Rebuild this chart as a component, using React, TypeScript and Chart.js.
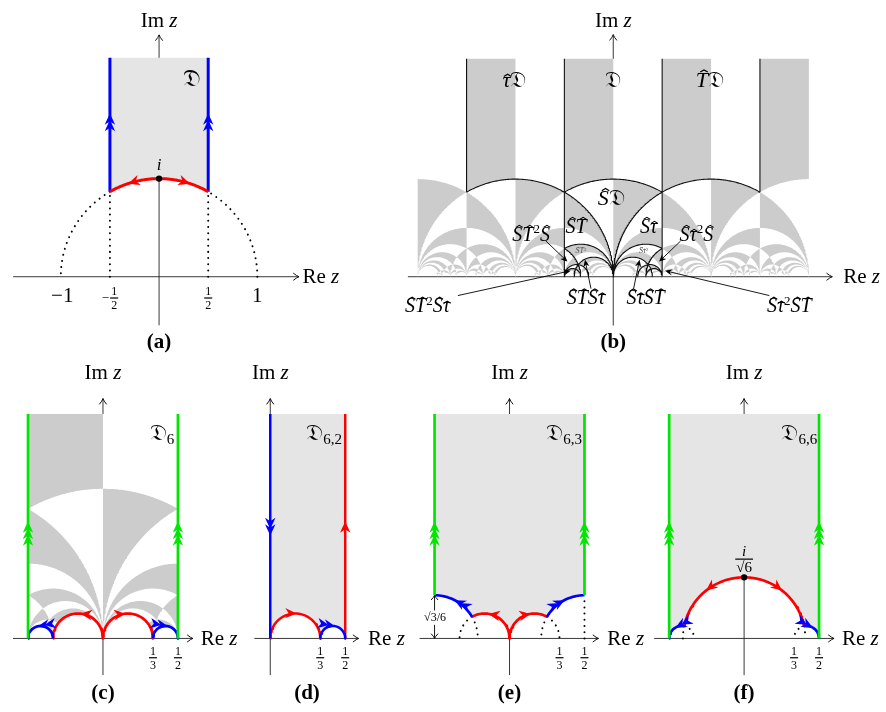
import React, { useEffect, useRef } from 'react';
import { Chart, registerables } from 'chart.js';

Chart.register(...registerables);

const W = 886;
const H = 712;
const R3 = Math.sqrt(3);
const R6 = Math.sqrt(6);
const SERIF = "'Liberation Serif', 'DejaVu Serif', 'Times New Roman', serif";
const FRAK = "'DejaVu Serif', 'DejaVu Sans', 'Noto Sans', serif";

const BLUE = '#0000ff';
const RED = '#ff0000';
const GREEN = '#00e600';
const LIGHT = '#e5e5e5';
const TESS = '#cccccc';
const INK = '#000000';

// ---------- layout frames: pixel of origin and pixels per unit ----------
const frames: any = {
  a: { ox: 157, oy: 276, u: 99 },
  b: { ox: 614.5, oy: 276, u: 98.5 },
  c: { ox: 100.5, oy: 641, u: 151 },
  d: { ox: 269, oy: 641, u: 151 },
  e: { ox: 510, oy: 641, u: 151 },
  f: { ox: 746.3, oy: 641, u: 151 },
};

// ---------- shared text ----------
const IM = [['Im', 'r'], [' ', 'r'], ['z', 'i']];
const RE = [['Re', 'r'], [' ', 'r'], ['z', 'i']];
const FD = '\u{1D507}';
const SH = ['S', 'ih'];
const TH = ['T', 'ih'];
const tH = ['\u03C4', 'ihl'];
const SQ = ['2', 'sup'];

// ---------- panel (a) ----------
const aTop = 2.232;
const aDomain = [['L', -0.5, aTop, -0.5, R3 / 2], ['A', 0, 1, 120, 60], ['L', 0.5, R3 / 2, 0.5, aTop]];
const aBlue = [[['L', -0.5, R3 / 2, -0.5, aTop]], [['L', 0.5, R3 / 2, 0.5, aTop]]];
const aRed = [[['A', 0, 1, 120, 60]]];
const aDotted = [[['A', 0, 1, 0, 60]], [['A', 0, 1, 120, 180]], [['L', -0.5, 0, -0.5, R3 / 2]], [['L', 0.5, 0, 0.5, R3 / 2]]];
const aPoints = [{ x: 0, y: 1 }];
const aAxisX = [-1.485, 1.424];
const aAxisY = [[-0.495, 2.465]];
const aArrows = [
  { on: 'L', x: -0.5, y: 1.66, dx: 0, dy: 1, n: 2, color: BLUE },
  { on: 'L', x: 0.5, y: 1.66, dx: 0, dy: 1, n: 2, color: BLUE },
  { on: 'A', cx: 0, r: 1, deg: 108, dir: 1, n: 1, color: RED },
  { on: 'A', cx: 0, r: 1, deg: 72, dir: -1, n: 1, color: RED },
];
const aLabels = [
  { x: 0, y: 2.616, size: 21, segs: IM },
  { x: 1.646, y: 0, size: 21, segs: RE },
  { x: -0.985, y: -0.192, size: 21, segs: [['\u22121', 'r']] },
  { x: 1, y: -0.192, size: 21, segs: [['1', 'r']] },
  { x: 0, y: 1.141, size: 17, segs: [['i', 'i']] },
  { x: 0.333, y: 2.02, size: 24, segs: [[FD, 'f']] },
  { x: 0, y: -0.66, size: 21, segs: [['(a)', 'b']] },
];
const aFracs = [
  { x: -0.5, y: -0.217, size: 12, pre: '\u2212', num: [['1', 'r']], den: [['2', 'r']] },
  { x: 0.5, y: -0.217, size: 12, num: [['1', 'r']], den: [['2', 'r']] },
];

// ---------- panel (b) ----------
const bTop = 2.232;
const bXMin = -2;
const bXMax = 2;
const bQMax = 26;
const bWalls = [[['L', -1.5, R3 / 2, -1.5, bTop]], [['L', -0.5, 0, -0.5, bTop]], [['L', 0.5, 0, 0.5, bTop]], [['L', 1.5, R3 / 2, 1.5, bTop]]];
const bArcs = [
  [-1, 1, 0, 120], [1, 1, 60, 180], [0, 1, 60, 120],
  [-1 / 3, 1 / 3, 0, 120], [1 / 3, 1 / 3, 60, 180],
  [-1 / 5, 1 / 5, 0, 180], [1 / 5, 1 / 5, 0, 180],
  [-2 / 3, 1 / 3, 0, 60], [2 / 3, 1 / 3, 120, 180],
  [-3 / 8, 1 / 8, 0, 180], [3 / 8, 1 / 8, 0, 180],
  [-5 / 12, 1 / 12, 0, 180], [5 / 12, 1 / 12, 0, 180],
];
const bAxisX = [-2.1, 2.24];
const bAxisY = [[-0.5, 0], [bTop, 2.48]];
const bPointers = [
  { x1: -0.688, y1: 0.365, x2: -0.469, y2: 0.155 },
  { x1: 0.688, y1: 0.365, x2: 0.469, y2: 0.155 },
  { x1: -1.589, y1: -0.193, x2: -0.435, y2: 0.061 },
  { x1: -0.228, y1: -0.122, x2: -0.289, y2: 0.173 },
  { x1: 0.208, y1: -0.122, x2: 0.269, y2: 0.173 },
  { x1: 1.596, y1: -0.193, x2: 0.53, y2: 0.061 },
];
const bLabels = [
  { x: 0, y: 2.63, size: 21, segs: IM },
  { x: 2.54, y: 0, size: 21, segs: RE },
  { x: -1.01, y: 2.02, size: 22, segs: [tH, [FD, 'f']] },
  { x: 0, y: 2.02, size: 22, segs: [[FD, 'f']] },
  { x: 0.987, y: 2.02, size: 22, segs: [TH, [FD, 'f']] },
  { x: -0.02, y: 0.805, size: 22, segs: [SH, [FD, 'f']] },
  { x: -0.38, y: 0.518, size: 20, segs: [SH, TH] },
  { x: 0.36, y: 0.518, size: 20, segs: [SH, tH] },
  { x: -0.84, y: 0.436, size: 20, segs: [SH, TH, SQ, SH] },
  { x: 0.85, y: 0.436, size: 20, segs: [SH, tH, SQ, SH] },
  { x: -0.33, y: 0.265, size: 8, segs: [SH, TH, SQ], color: '#555' },
  { x: 0.31, y: 0.265, size: 8, segs: [SH, tH, SQ], color: '#555' },
  { x: -1.9, y: -0.3, size: 20, segs: [SH, TH, SQ, SH, tH] },
  { x: -0.28, y: -0.215, size: 20, segs: [SH, TH, SH, tH] },
  { x: 0.33, y: -0.215, size: 20, segs: [SH, tH, SH, TH] },
  { x: 1.8, y: -0.3, size: 20, segs: [SH, tH, SQ, SH, TH] },
  { x: 0, y: -0.66, size: 21, segs: [['(b)', 'b']] },
];

// ---------- bottom row shared ----------
const rowTop = 1.5;
const rowAxisTop = 1.603;
const rowAxisBottom = -0.245;
const tickFracs = [
  { x: 1 / 3, y: -0.129, size: 12, num: [['1', 'r']], den: [['3', 'r']] },
  { x: 0.5, y: -0.129, size: 12, num: [['1', 'r']], den: [['2', 'r']] },
];
const greenArrows = [
  { on: 'L', x: -0.5, y: 0.78, dx: 0, dy: 1, n: 3, color: GREEN },
  { on: 'L', x: 0.5, y: 0.78, dx: 0, dy: 1, n: 3, color: GREEN },
];

// ---------- panel (c) ----------
const cGreen = [[['L', -0.5, 0, -0.5, rowTop]], [['L', 0.5, 0, 0.5, rowTop]]];
const cRed = [[['A', -1 / 6, 1 / 6, 180, 0]], [['A', 1 / 6, 1 / 6, 180, 0]]];
const cBlue = [[['A', -5 / 12, 1 / 12, 180, 0]], [['A', 5 / 12, 1 / 12, 180, 0]]];
const cHoles = [[-1 / 6, 1 / 6], [1 / 6, 1 / 6], [-5 / 12, 1 / 12], [5 / 12, 1 / 12]];
const cQMax = 30;
const cAxisX = [-0.6, 0.6];
const cAxisY = [[rowAxisBottom, 0], [rowTop, rowAxisTop]];
const cArrows = [
  ...greenArrows,
  { on: 'A', cx: 1 / 6, r: 1 / 6, deg: 97, dir: -1, n: 1, color: RED },
  { on: 'A', cx: -1 / 6, r: 1 / 6, deg: 83, dir: 1, n: 1, color: RED },
  { on: 'A', cx: 5 / 12, r: 1 / 12, deg: 80, dir: -1, n: 2, color: BLUE },
  { on: 'A', cx: -5 / 12, r: 1 / 12, deg: 100, dir: 1, n: 2, color: BLUE },
];
const cLabels = [
  { x: 0, y: 1.78, size: 21, segs: IM },
  { x: 0.775, y: 0, size: 21, segs: RE },
  { x: 0.394, y: 1.377, size: 23, segs: [[FD, 'f'], ['6', 'sub']] },
  { x: 0, y: -0.358, size: 21, segs: [['(c)', 'b']] },
];

// ---------- panel (d) ----------
const dDomain = [['L', 0, rowTop, 0, 0], ['A', 1 / 6, 1 / 6, 180, 0], ['A', 5 / 12, 1 / 12, 180, 0], ['L', 0.5, 0, 0.5, rowTop]];
const dBlue = [[['L', 0, 0, 0, rowTop]], [['A', 5 / 12, 1 / 12, 180, 0]]];
const dRed = [[['L', 0.5, 0, 0.5, rowTop]], [['A', 1 / 6, 1 / 6, 180, 0]]];
const dAxisX = [-0.106, 0.59];
const dAxisY = [[rowAxisBottom, rowAxisTop]];
const dArrows = [
  { on: 'L', x: 0, y: 0.69, dx: 0, dy: -1, n: 2, color: BLUE },
  { on: 'L', x: 0.5, y: 0.78, dx: 0, dy: 1, n: 1, color: RED },
  { on: 'A', cx: 1 / 6, r: 1 / 6, deg: 88, dir: -1, n: 1, color: RED },
  { on: 'A', cx: 5 / 12, r: 1 / 12, deg: 80, dir: -1, n: 2, color: BLUE },
];
const dLabels = [
  { x: 0, y: 1.78, size: 21, segs: IM },
  { x: 0.775, y: 0, size: 21, segs: RE },
  { x: 0.36, y: 1.377, size: 23, segs: [[FD, 'f'], ['6,2', 'sub']] },
  { x: 0.245, y: -0.358, size: 21, segs: [['(d)', 'b']] },
];

// ---------- panel (e) ----------
const eH = R3 / 6;
const eDomain = [
  ['L', -0.5, rowTop, -0.5, eH], ['A', -0.5, eH, 90, 30], ['A', -1 / 6, 1 / 6, 120, 0],
  ['A', 1 / 6, 1 / 6, 180, 60], ['A', 0.5, eH, 150, 90], ['L', 0.5, eH, 0.5, rowTop],
];
const eGreen = [[['L', -0.5, eH, -0.5, rowTop]], [['L', 0.5, eH, 0.5, rowTop]]];
const eRed = [[['A', -1 / 6, 1 / 6, 120, 0]], [['A', 1 / 6, 1 / 6, 180, 60]]];
const eBlue = [[['A', -0.5, eH, 90, 30]], [['A', 0.5, eH, 150, 90]]];
const eDotted = [
  [['A', -1 / 6, 1 / 6, 120, 180]], [['A', 1 / 6, 1 / 6, 60, 0]],
  [['A', -0.5, eH, 30, 0]], [['A', 0.5, eH, 150, 180]], [['L', 0.5, 0, 0.5, eH]],
];
const eAxisX = [-0.6, 0.594];
const eAxisY = [[rowAxisBottom, rowAxisTop]];
const eArrows = [
  ...greenArrows,
  { on: 'A', cx: 1 / 6, r: 1 / 6, deg: 100, dir: -1, n: 1, color: RED },
  { on: 'A', cx: -1 / 6, r: 1 / 6, deg: 80, dir: 1, n: 1, color: RED },
  { on: 'A', cx: 0.5, r: eH, deg: 118, dir: -1, n: 2, color: BLUE },
  { on: 'A', cx: -0.5, r: eH, deg: 62, dir: 1, n: 2, color: BLUE },
];
const eDims = [{ x: -0.5, y1: 0, y2: eH }];
const eLabels = [
  { x: 0, y: 1.78, size: 21, segs: IM },
  { x: 0.775, y: 0, size: 21, segs: RE },
  { x: 0.364, y: 1.377, size: 23, segs: [[FD, 'f'], ['6,3', 'sub']] },
  { x: -0.497, y: 0.139, size: 12, segs: [['\u221A3/6', 'r']], bg: true },
  { x: 0, y: -0.358, size: 21, segs: [['(e)', 'b']] },
];

// ---------- panel (f) ----------
const fR = 1 / R6;
const fDomain = [
  ['L', -0.5, rowTop, -0.5, 0], ['A', -5 / 12, 1 / 12, 180, 78.46], ['A', 0, fR, 168.46, 11.54],
  ['A', 5 / 12, 1 / 12, 101.54, 0], ['L', 0.5, 0, 0.5, rowTop],
];
const fGreen = [[['L', -0.5, 0, -0.5, rowTop]], [['L', 0.5, 0, 0.5, rowTop]]];
const fRed = [[['A', 0, fR, 168.46, 11.54]]];
const fBlue = [[['A', -5 / 12, 1 / 12, 180, 78.46]], [['A', 5 / 12, 1 / 12, 101.54, 0]]];
const fDotted = [
  [['A', -5 / 12, 1 / 12, 78.46, 0]], [['A', 5 / 12, 1 / 12, 101.54, 180]],
  [['A', 0, fR, 180, 168.46]], [['A', 0, fR, 11.54, 0]],
];
const fPoints = [{ x: 0, y: fR }];
const fAxisX = [-0.6, 0.6];
const fAxisY = [[rowAxisBottom, rowAxisTop]];
const fArrows = [
  ...greenArrows,
  { on: 'A', cx: 0, r: fR, deg: 52, dir: -1, n: 1, color: RED },
  { on: 'A', cx: 0, r: fR, deg: 128, dir: 1, n: 1, color: RED },
  { on: 'A', cx: 5 / 12, r: 1 / 12, deg: 62, dir: -1, n: 2, color: BLUE },
  { on: 'A', cx: -5 / 12, r: 1 / 12, deg: 118, dir: 1, n: 2, color: BLUE },
];
const fLabels = [
  { x: 0, y: 1.78, size: 21, segs: IM },
  { x: 0.775, y: 0, size: 21, segs: RE },
  { x: 0.368, y: 1.377, size: 23, segs: [[FD, 'f'], ['6,6', 'sub']] },
  { x: 0, y: -0.358, size: 21, segs: [['(f)', 'b']] },
];
const fFracs = [{ x: 0, y: 0.53, size: 15, num: [['i', 'i']], den: [['\u221A6', 'r']] }];

// ---------- modular group pieces (base half-domain) ----------
const baseCorner = [-0.5, R3 / 2];
const baseMid = [0, 1];
const baseProbe = [-0.25, 1.3];

// ================= geometry helpers =================
const D2R = Math.PI / 180;
function arcPts(cx: number, r: number, a1: number, a2: number, out: any[], minN: number) {
  const t1 = a1 * D2R;
  const t2 = a2 * D2R;
  const n = Math.max(minN, Math.min(200, Math.ceil(Math.abs(t2 - t1) * r * 90)));
  for (let k = 0; k <= n; k++) {
    const t = t1 + ((t2 - t1) * k) / n;
    out.push({ x: cx + r * Math.cos(t), y: r * Math.sin(t) });
  }
}
function geoPts(x1: number, y1: number, x2: number, y2: number, out: any[]) {
  if (Math.abs(x1 - x2) < 1e-10) {
    out.push({ x: x1, y: y1 }, { x: x2, y: y2 });
    return;
  }
  const c = (x2 * x2 + y2 * y2 - (x1 * x1 + y1 * y1)) / (2 * (x2 - x1));
  const r = Math.hypot(x1 - c, y1);
  arcPts(c, r, Math.atan2(y1, x1 - c) / D2R, Math.atan2(y2, x2 - c) / D2R, out, 2);
}
function toPts(segs: any[]) {
  const out: any[] = [];
  for (const s of segs) {
    if (s[0] === 'L') out.push({ x: s[1], y: s[2] }, { x: s[3], y: s[4] });
    else if (s[0] === 'A') arcPts(s[1], s[2], s[3], s[4], out, 2);
    else if (s[0] === 'G') geoPts(s[1], s[2], s[3], s[4], out);
  }
  return out;
}
function joinPaths(paths: any[][]) {
  const out: any[] = [];
  paths.forEach((p, i) => {
    const pts = toPts(p);
    if (i > 0 && pts.length) out.push({ x: pts[0].x, y: null });
    out.push(...pts);
  });
  return out;
}
function gcd(a: number, b: number) {
  a = Math.abs(a);
  b = Math.abs(b);
  while (b) {
    const t = a % b;
    a = b;
    b = t;
  }
  return a;
}
function mob(a: number, b: number, c: number, d: number, p: number[]) {
  const [x, y] = p;
  const nr = a * x + b, ni = a * y, dr = c * x + d, di = c * y;
  const den = dr * dr + di * di;
  return [(nr * dr + ni * di) / den, (ni * dr - nr * di) / den];
}
// images of the base half-domain under PSL(2,Z)
function tessellation(xmin: number, xmax: number, top: number, qmax: number, keep: (x: number, y: number) => boolean) {
  const tris: any[][] = [];
  for (let n = Math.floor(xmin) - 1; n <= Math.ceil(xmax) + 1; n++) {
    if (!keep(baseProbe[0] + n, baseProbe[1])) continue;
    tris.push([
      ['L', baseCorner[0] + n, top, baseCorner[0] + n, baseCorner[1]],
      ['G', baseCorner[0] + n, baseCorner[1], baseMid[0] + n, baseMid[1]],
      ['L', baseMid[0] + n, baseMid[1], baseMid[0] + n, top],
    ]);
  }
  for (let c = 1; 0.75 * c * c <= qmax; c++) {
    const s = Math.sqrt(qmax - 0.75 * c * c);
    for (let d = Math.ceil(c / 2 - s); d <= Math.floor(c / 2 + s); d++) {
      if (gcd(c, d) !== 1) continue;
      let a0 = 0;
      while ((((a0 * d - 1) % c) + c) % c !== 0) a0++;
      for (let k = Math.floor(xmin) - 2; k <= Math.ceil(xmax) + 2; k++) {
        const a = a0 + k * c;
        const b = (a * d - 1) / c;
        const pr = mob(a, b, c, d, baseProbe);
        if (!keep(pr[0], pr[1])) continue;
        const v2 = mob(a, b, c, d, baseCorner);
        const v3 = mob(a, b, c, d, baseMid);
        const cu = a / c;
        tris.push([
          ['G', cu, 0, v2[0], v2[1]],
          ['G', v2[0], v2[1], v3[0], v3[1]],
          ['G', v3[0], v3[1], cu, 0],
        ]);
      }
    }
  }
  return tris;
}

// ================= datasets =================
function buildDatasets() {
  const list: any[] = [];
  const add = (id: string, data: any[], o: any) =>
    list.push({
      data,
      xAxisID: 'x' + id,
      yAxisID: 'y' + id,
      showLine: true,
      pointRadius: 0,
      pointHoverRadius: 0,
      tension: 0,
      spanGaps: false,
      fill: false,
      borderWidth: 1,
      borderColor: INK,
      backgroundColor: 'transparent',
      borderJoinStyle: 'round',
      ...o,
    });
  const axes = (id: string, ax: number[], ay: number[][]) => {
    add(id, joinPaths([[['L', ax[0], 0, ax[1], 0]], ...ay.map((p) => [['L', 0, p[0], 0, p[1]]])]), { borderWidth: 0.9, borderColor: '#222' });
  };
  const fillShape = (id: string, paths: any[][], color: string) => add(id, joinPaths(paths), { fill: 'shape', backgroundColor: color, borderWidth: 0 });
  const stroke = (id: string, paths: any[][], color: string, w: number) => add(id, joinPaths(paths), { borderColor: color, borderWidth: w, borderCapStyle: 'butt' });
  const dotted = (id: string, paths: any[][]) =>
    add(id, joinPaths(paths), { borderColor: INK, borderWidth: 2, borderDash: [0.01, 6.2], borderCapStyle: 'round' });
  const points = (id: string, pts: any[]) =>
    add(id, pts, { showLine: false, pointRadius: 3.2, pointBackgroundColor: INK, pointBorderColor: INK, pointBorderWidth: 0 });

  // (a)
  axes('a', aAxisX, aAxisY);
  dotted('a', aDotted);
  fillShape('a', [aDomain], LIGHT);
  stroke('a', aBlue, BLUE, 3);
  stroke('a', aRed, RED, 3);
  points('a', aPoints);

  // (b)
  axes('b', bAxisX, bAxisY);
  fillShape('b', tessellation(bXMin, bXMax, bTop, bQMax, (x, y) => x > bXMin && x < bXMax && y < bTop), TESS);
  stroke('b', [...bWalls, ...bArcs.map((q) => [['A', q[0], q[1], q[2], q[3]]])], '#111', 1.1);

  // (c)
  axes('c', cAxisX, cAxisY);
  fillShape(
    'c',
    tessellation(-0.5, 0.5, rowTop, cQMax, (x, y) => Math.abs(x) < 0.5 && y < rowTop && cHoles.every((h) => (x - h[0]) ** 2 + y * y > h[1] * h[1])),
    TESS
  );
  stroke('c', cRed, RED, 2.7);
  stroke('c', cBlue, BLUE, 2.7);
  stroke('c', cGreen, GREEN, 2.7);

  // (d)
  axes('d', dAxisX, dAxisY);
  fillShape('d', [dDomain], LIGHT);
  stroke('d', dRed, RED, 2.5);
  stroke('d', dBlue, BLUE, 2.5);

  // (e)
  axes('e', eAxisX, eAxisY);
  dotted('e', eDotted);
  fillShape('e', [eDomain], LIGHT);
  stroke('e', eRed, RED, 2.7);
  stroke('e', eBlue, BLUE, 2.7);
  stroke('e', eGreen, GREEN, 2.7);

  // (f)
  axes('f', fAxisX, fAxisY);
  dotted('f', fDotted);
  fillShape('f', [fDomain], LIGHT);
  stroke('f', fRed, RED, 2.7);
  stroke('f', fBlue, BLUE, 2.7);
  stroke('f', fGreen, GREEN, 2.7);
  points('f', fPoints);

  const N = list.length;
  list.forEach((d, i) => (d.order = N - i));
  return list;
}

// ================= decorations (arrows, labels) =================
const decor = [
  { id: 'a', ax: aAxisX, ayTop: aAxisY[aAxisY.length - 1][1], arrows: aArrows, labels: aLabels, fracs: aFracs, pointers: [], dims: [] },
  { id: 'b', ax: bAxisX, ayTop: bAxisY[bAxisY.length - 1][1], arrows: [], labels: bLabels, fracs: [], pointers: bPointers, dims: [] },
  { id: 'c', ax: cAxisX, ayTop: rowAxisTop, arrows: cArrows, labels: cLabels, fracs: tickFracs, pointers: [], dims: [] },
  { id: 'd', ax: dAxisX, ayTop: rowAxisTop, arrows: dArrows, labels: dLabels, fracs: tickFracs, pointers: [], dims: [] },
  { id: 'e', ax: eAxisX, ayTop: rowAxisTop, arrows: eArrows, labels: eLabels, fracs: tickFracs, pointers: [], dims: eDims },
  { id: 'f', ax: fAxisX, ayTop: rowAxisTop, arrows: fArrows, labels: fLabels, fracs: [...tickFracs, ...fFracs], pointers: [], dims: [] },
];

function fontOf(st: string, size: number) {
  if (st === 'i' || st === 'ih' || st === 'ihl') return `italic ${size}px ${SERIF}`;
  if (st === 'b') return `bold ${size}px ${SERIF}`;
  if (st === 'sup' || st === 'sub') return `${Math.round(size * 0.64)}px ${SERIF}`;
  if (st === 'f') return `${size}px ${FRAK}`;
  return `${size}px ${SERIF}`;
}
function richWidth(ctx: any, segs: any[], size: number) {
  let w = 0;
  for (const [t, st] of segs) {
    ctx.font = fontOf(st, size);
    w += ctx.measureText(t).width;
  }
  return w;
}
function drawRich(ctx: any, segs: any[], x0: number, cy: number, size: number) {
  let x = x0;
  const base = cy + size * 0.32;
  for (const [t, st] of segs) {
    ctx.font = fontOf(st, size);
    const dy = st === 'sup' ? -size * 0.36 : st === 'sub' ? size * 0.2 : 0;
    ctx.fillText(t, x, base + dy);
    const w = ctx.measureText(t).width;
    if (st === 'ih' || st === 'ihl') {
      const hx = x + w / 2 + size * (st === 'ih' ? 0.1 : 0.05);
      const hy = base - size * (st === 'ih' ? 0.76 : 0.56);
      const hw = size * 0.17;
      ctx.save();
      ctx.beginPath();
      ctx.moveTo(hx - hw, hy + size * 0.1);
      ctx.lineTo(hx, hy);
      ctx.lineTo(hx + hw, hy + size * 0.1);
      ctx.strokeStyle = ctx.fillStyle;
      ctx.lineWidth = Math.max(0.6, size * 0.055);
      ctx.stroke();
      ctx.restore();
    }
    x += w;
  }
}
function head(ctx: any, x: number, y: number, ang: number, color: string, L = 11, Wd = 5.2) {
  ctx.save();
  ctx.translate(x, y);
  ctx.rotate(ang);
  ctx.beginPath();
  ctx.moveTo(0, 0);
  ctx.quadraticCurveTo(-L * 0.5, Wd * 0.55, -L, Wd);
  ctx.lineTo(-L * 0.68, 0);
  ctx.lineTo(-L, -Wd);
  ctx.quadraticCurveTo(-L * 0.5, -Wd * 0.55, 0, 0);
  ctx.closePath();
  ctx.fillStyle = color;
  ctx.fill();
  ctx.restore();
}
function chevron(ctx: any, x: number, y: number, ang: number, L = 5.5, Wd = 3.4) {
  ctx.save();
  ctx.translate(x, y);
  ctx.rotate(ang);
  ctx.beginPath();
  ctx.moveTo(-L, -Wd);
  ctx.quadraticCurveTo(-L * 0.4, -Wd * 0.2, 0, 0);
  ctx.quadraticCurveTo(-L * 0.4, Wd * 0.2, -L, Wd);
  ctx.strokeStyle = '#111';
  ctx.lineWidth = 1;
  ctx.lineCap = 'round';
  ctx.stroke();
  ctx.restore();
}

const decorPlugin = {
  id: 'decor',
  afterDatasetsDraw(chart: any) {
    const ctx = chart.ctx;
    ctx.save();
    for (const P of decor) {
      const xs = chart.scales['x' + P.id];
      const ys = chart.scales['y' + P.id];
      const X = (v: number) => xs.getPixelForValue(v);
      const Y = (v: number) => ys.getPixelForValue(v);
      chevron(ctx, X(P.ax[1]), Y(0), 0);
      chevron(ctx, X(0), Y(P.ayTop), -Math.PI / 2);

      for (const q of P.pointers as any[]) {
        const x1 = X(q.x1), y1 = Y(q.y1), x2 = X(q.x2), y2 = Y(q.y2);
        const ang = Math.atan2(y2 - y1, x2 - x1);
        ctx.beginPath();
        ctx.moveTo(x1, y1);
        ctx.lineTo(x2 - Math.cos(ang) * 3, y2 - Math.sin(ang) * 3);
        ctx.strokeStyle = '#000';
        ctx.lineWidth = 0.9;
        ctx.stroke();
        head(ctx, x2, y2, ang, '#000', 7, 3);
      }
      for (const q of P.dims as any[]) {
        const x = X(q.x), ya = Y(q.y1), yb = Y(q.y2);
        ctx.beginPath();
        ctx.moveTo(x, ya);
        ctx.lineTo(x, yb);
        ctx.strokeStyle = '#000';
        ctx.lineWidth = 0.9;
        ctx.stroke();
        chevron(ctx, x, ya, Math.PI / 2, 4.5, 3.2);
        chevron(ctx, x, yb, -Math.PI / 2, 4.5, 3.2);
      }
      for (const a of P.arrows as any[]) {
        let px: number, py: number, ang: number;
        if (a.on === 'L') {
          px = X(a.x);
          py = Y(a.y);
          ang = Math.atan2(-a.dy, a.dx);
        } else {
          const t = a.deg * D2R;
          px = X(a.cx + a.r * Math.cos(t));
          py = Y(a.r * Math.sin(t));
          const tx = -Math.sin(t) * a.dir, ty = Math.cos(t) * a.dir;
          ang = Math.atan2(-ty, tx);
        }
        for (let k = 0; k < a.n; k++) {
          head(ctx, px - Math.cos(ang) * 6.5 * k, py - Math.sin(ang) * 6.5 * k, ang, a.color);
        }
      }
      for (const L of P.labels as any[]) {
        const w = richWidth(ctx, L.segs, L.size);
        const cx = X(L.x), cy = Y(L.y);
        if (L.bg) {
          ctx.fillStyle = '#fff';
          ctx.fillRect(cx - w / 2 - 1, cy - L.size * 0.6, w + 2, L.size * 1.2);
        }
        ctx.fillStyle = L.color || '#000';
        drawRich(ctx, L.segs, cx - w / 2, cy, L.size);
      }
      for (const F of P.fracs as any[]) {
        const s = F.size;
        const nw = richWidth(ctx, F.num, s);
        const dw = richWidth(ctx, F.den, s);
        const bw = Math.max(nw, dw) + 2;
        let pw = 0;
        if (F.pre) {
          ctx.font = `${s * 1.1}px ${SERIF}`;
          pw = ctx.measureText(F.pre).width + 1;
        }
        const total = pw + bw;
        const px = X(F.x), py = Y(F.y);
        const left = px - total / 2;
        ctx.fillStyle = '#000';
        if (F.pre) {
          ctx.font = `${s * 1.1}px ${SERIF}`;
          ctx.fillText(F.pre, left, py + s * 0.3);
        }
        const fc = left + pw + bw / 2;
        ctx.fillRect(fc - bw / 2, py - 0.6, bw, 1.2);
        drawRich(ctx, F.num, fc - nw / 2, py - 3 - s * 0.34, s);
        drawRich(ctx, F.den, fc - dw / 2, py + 3 + s * 0.34, s);
      }
    }
    ctx.restore();
  },
};

function buildScales() {
  const scales: any = {};
  for (const id of Object.keys(frames)) {
    const f = frames[id];
    scales['x' + id] = { type: 'linear', axis: 'x', position: 'bottom', display: false, min: -f.ox / f.u, max: (W - f.ox) / f.u, bounds: 'data', grace: 0 };
    scales['y' + id] = { type: 'linear', axis: 'y', position: 'left', display: false, min: (f.oy - H) / f.u, max: f.oy / f.u, bounds: 'data', grace: 0 };
  }
  return scales;
}

export default function App() {
  const ref = useRef<HTMLCanvasElement>(null);
  useEffect(() => {
    const chart = new Chart(ref.current as HTMLCanvasElement, {
      type: 'scatter',
      data: { datasets: buildDatasets() },
      options: {
        responsive: false,
        animation: false,
        events: [],
        layout: { padding: 0 },
        plugins: { legend: { display: false }, tooltip: { enabled: false }, title: { display: false } },
        scales: buildScales(),
      },
      plugins: [decorPlugin],
    } as any);
    return () => chart.destroy();
  }, []);
  return (
    <div style={{ position: 'fixed', left: 0, top: 0, width: W, height: H, background: '#fff' }}>
      <canvas ref={ref} width={W} height={H} style={{ width: W, height: H, display: 'block' }} />
    </div>
  );
}
